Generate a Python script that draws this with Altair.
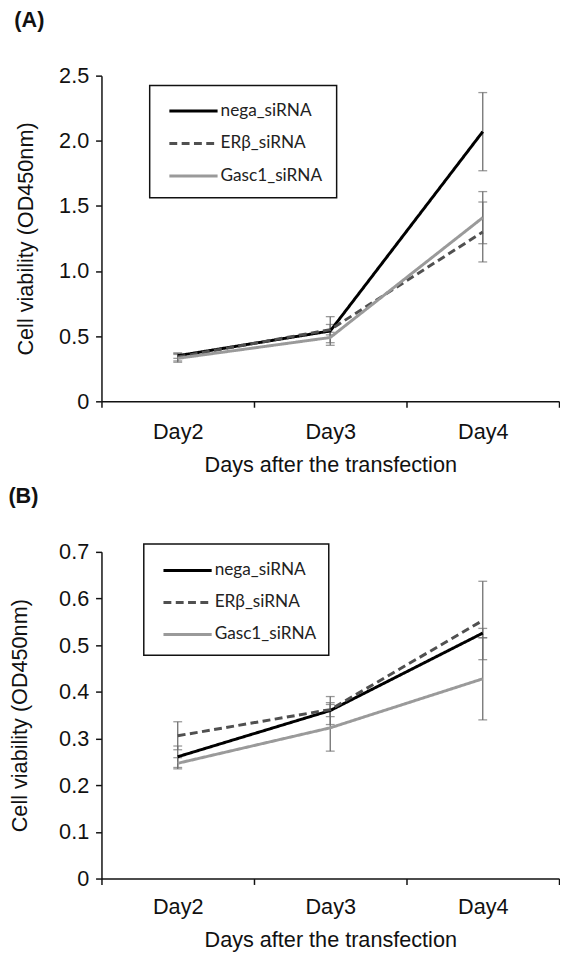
import altair as alt
import pandas as pd

days = ["Day2", "Day3", "Day4"]
series = ["nega_siRNA", "ERβ_siRNA", "Gasc1_siRNA"]

# Panel A values (OD450) and error half-widths
a_nega = [0.35, 0.54, 2.07]
a_nega_err = [0.02, 0.11, 0.30]
a_erb = [0.34, 0.55, 1.30]
a_erb_err = [0.03, 0.04, 0.23]
a_gasc = [0.33, 0.49, 1.41]
a_gasc_err = [0.03, 0.04, 0.20]

# Panel B values (OD450) and error half-widths
b_nega = [0.261, 0.360, 0.526]
b_nega_err = [0.023, 0.030, 0.010]
b_erb = [0.306, 0.362, 0.553]
b_erb_err = [0.030, 0.015, 0.084]
b_gasc = [0.247, 0.323, 0.428]
b_gasc_err = [0.012, 0.050, 0.088]

a_ticks = [0, 0.5, 1.0, 1.5, 2.0, 2.5]
b_ticks = [0, 0.1, 0.2, 0.3, 0.4, 0.5, 0.6, 0.7]

colors = ["#000000", "#505050", "#9a9a9a"]
dashes = [[1, 0], [8, 4.5], [1, 0]]

AX_FONT = "Liberation Sans"


def make_df(vals, errs):
    rows = []
    for s, v, e in zip(series, vals, errs):
        for d, y, err in zip(days, v, e):
            rows.append({"series": s, "day": d, "value": y,
                         "lo": y - err, "hi": y + err})
    return pd.DataFrame(rows)


def panel(df, ticks, ymax, label, w, h, legend_pos, axis_pads, title_offset):
    lx, ly, lw, lh, rows_y = legend_pos
    lab_pad, title_pad, y_title_pad = axis_pads
    xenc = alt.X("day:N", sort=days,
                 scale=alt.Scale(type="band", paddingInner=0, paddingOuter=0),
                 axis=alt.Axis(title="Days after the transfection", labelAngle=0,
                               tickBand="extent", labelPadding=lab_pad,
                               titlePadding=title_pad))
    yscale = alt.Scale(domain=[0, ymax], nice=False)
    yaxis = alt.Axis(title="Cell viability (OD450nm)", values=ticks,
                     labelExpr="datum.value == 0 ? '0' : format(datum.value, '.1f')",
                     labelPadding=7, titlePadding=y_title_pad)
    col = alt.Color("series:N", scale=alt.Scale(domain=series, range=colors), legend=None)
    dash = alt.StrokeDash("series:N", scale=alt.Scale(domain=series, range=dashes), legend=None)

    base = alt.Chart(df)
    bars = base.mark_rule(color="#6e6e6e", strokeWidth=1.3).encode(
        x=xenc, y=alt.Y("lo:Q", scale=yscale, axis=yaxis), y2="hi:Q")
    cap_lo = base.mark_tick(color="#6e6e6e", thickness=1.3, size=9, orient="horizontal").encode(
        x=xenc, y=alt.Y("lo:Q", scale=yscale, axis=yaxis))
    cap_hi = base.mark_tick(color="#6e6e6e", thickness=1.3, size=9, orient="horizontal").encode(
        x=xenc, y=alt.Y("hi:Q", scale=yscale, axis=yaxis))
    lines = base.mark_line(strokeWidth=3).encode(
        x=xenc, y=alt.Y("value:Q", scale=yscale, axis=yaxis), color=col, strokeDash=dash,
        order=alt.Order("day:N"))
    data_layer = alt.layer(bars, cap_lo, cap_hi, lines)

    leg_df = pd.DataFrame({"series": series})
    leg_y = alt.Y("series:N", sort=series,
                  scale=alt.Scale(type="point", domain=series, range=rows_y, padding=0),
                  axis=None)
    box = alt.Chart(pd.DataFrame({"box": [1]})).mark_rect(
        fill="white", stroke="#111111", strokeWidth=1.5).encode(
        x=alt.value(lx), x2=alt.value(lx + lw), y=alt.value(ly), y2=alt.value(ly + lh))
    leg_lines = alt.Chart(leg_df).mark_rule(strokeWidth=3).encode(
        x=alt.value(lx + 20), x2=alt.value(lx + 69), y=leg_y, color=col, strokeDash=dash)
    leg_text = alt.Chart(leg_df).mark_text(
        align="left", baseline="middle", font="Lato", fontSize=17.5, color="#222222").encode(
        x=alt.value(lx + 72), y=leg_y, text="series:N")
    legend_layer = alt.layer(box, leg_lines, leg_text)

    return alt.layer(data_layer, legend_layer).resolve_scale(
        y="independent").properties(
        width=w, height=h,
        title=alt.TitleParams(label, anchor="start", frame="bounds", fontSize=22,
                              fontWeight="bold", font=AX_FONT, color="#111111",
                              offset=title_offset))


dfa = make_df([a_nega, a_erb, a_gasc], [a_nega_err, a_erb_err, a_gasc_err])
dfb = make_df([b_nega, b_erb, b_gasc], [b_nega_err, b_erb_err, b_gasc_err])

pa = panel(dfa, a_ticks, 2.5, "(A)", 465, 331,
           (49, 10, 190, 114, [36, 102]), (15, 12, 22), 33)
pb = panel(dfb, b_ticks, 0.7, "(B)", 465, 332,
           (43, -8, 188, 113, [19, 84]), (13, 12, 28), 34)

chart = alt.vconcat(pa, pb, spacing=10).properties(
    padding={"left": 0, "top": -6, "right": 0, "bottom": 0}
).configure_view(stroke=None).configure_axis(
    grid=False, domainColor="#111111", domainWidth=1.5, tickColor="#111111",
    tickWidth=1.5, tickSize=6, labelFont=AX_FONT, labelFontSize=22,
    labelColor="#111111", titleFont=AX_FONT, titleFontSize=22,
    titleFontWeight="normal", titleColor="#111111"
)

chart.save("out.html", embed_options={"renderer": "svg", "actions": False})
